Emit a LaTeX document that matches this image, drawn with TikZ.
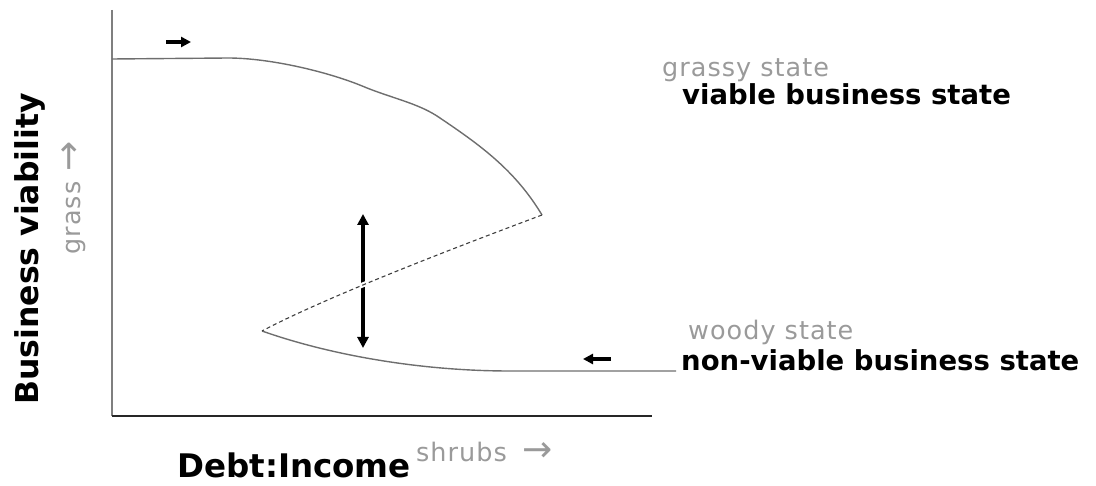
\documentclass[tikz,border=0pt]{standalone}
\usepackage{fontspec}
\setmainfont{DejaVu Sans}
\usetikzlibrary{arrows.meta}
\definecolor{cAxis}{HTML}{7F7F7F}
\definecolor{cCurve}{HTML}{6E6E6E}
\definecolor{cGrey}{HTML}{9A9A9A}
\newcommand{\bigto}{{\fontsize{36}{36}\selectfont →}}
\tikzset{
  axis/.style={line width=2pt},
  curve/.style={draw=cCurve, line width=1.4pt},
  unstable/.style={draw=black!75, line width=1.1pt, dash pattern=on 4pt off 3pt},
  halo/.style={draw=white, line width=5pt, shorten >=6pt, shorten <=6pt},
  push/.style={-{Triangle[length=10pt, width=10pt]}, line width=3.6pt},
  jump/.style={{Triangle[length=11pt, width=11pt]}-{Triangle[length=11pt, width=11pt]}, line width=3.6pt},
  state/.style={font=\fontsize{25.5}{28}\selectfont\addfontfeatures{LetterSpace=4}, text=cGrey, anchor=base west, inner sep=0pt},
  biz/.style={font=\fontsize{27.5}{30}\selectfont\bfseries, anchor=base west, inner sep=0pt},
  axlabel/.style={font=\fontsize{31.5}{34}\selectfont\bfseries, inner sep=0pt},
  proxy/.style={font=\fontsize{25.5}{28}\selectfont\addfontfeatures{LetterSpace=4}, text=cGrey, inner sep=0pt},
}
\begin{document}
\begin{tikzpicture}[x=1pt, y=-1pt]
\useasboundingbox (0,0) rectangle (1096,486);

% ------------------------------------------------------------------ axes
\coordinate (origin) at (112,416);
\coordinate (ytop)   at (112,10);
\coordinate (xend)   at (652,416);
\draw[axis, cAxis] (ytop) -- (origin);
\draw[axis, black!85] (origin) -- (xend);

% ------------------------------------------------------------------ fold curve
\coordinate (upstart) at (112,59);
\coordinate (fold1)   at (542,215);
\coordinate (fold2)   at (262,331);
\coordinate (lowend)  at (676,371);
\draw[curve] (upstart) -- (228,58)
  .. controls (270,58) and (330,72) .. (367,88)
  .. controls (395,99) and (420,104) .. (440,118)
  .. controls (480,145) and (515,170) .. (fold1);
\draw[curve] (fold2) .. controls (330,355) and (420,371) .. (510,371) -- (lowend);

% ------------------------------------------------------------------ arrows
\coordinate (pr1) at (166,42);  \coordinate (pr2) at (191,42);
\coordinate (pl1) at (611,359); \coordinate (pl2) at (583,359);
\coordinate (jtop) at (363,214); \coordinate (jbot) at (363,348);
\draw[push] (pr1) -- (pr2);
\draw[push] (pl1) -- (pl2);
\draw[jump] (jbot) -- (jtop);

% unstable branch, laid over the jump arrow
\draw[halo] (fold1) .. controls (470,242) and (330,295) .. (fold2);
\draw[unstable] (fold1) .. controls (470,242) and (330,295) .. (fold2);

% ------------------------------------------------------------------ labels
\node[state] (grassy) at (662,77)  {grassy state};
\node[biz]   (viable) at (682,105) {viable business state};
\node[state] (woody)  at (688,340) {woody state};
\node[biz]   (nonvia) at (681,371) {non-viable business state};

\node[axlabel, rotate=90, anchor=base] (ylab) at (38,249) {Business viability};
\node[proxy, rotate=90, anchor=base]  (grass) at (80,198) {grass\hspace*{10pt}\bigto};
\node[axlabel, anchor=base west, font=\fontsize{32.5}{35}\selectfont\bfseries] (xlab) at (177,477) {Debt:Income};
\node[proxy, anchor=base west] (shrubs) at (416,461) {shrubs\hspace*{16pt}\bigto};

\end{tikzpicture}
\end{document}
